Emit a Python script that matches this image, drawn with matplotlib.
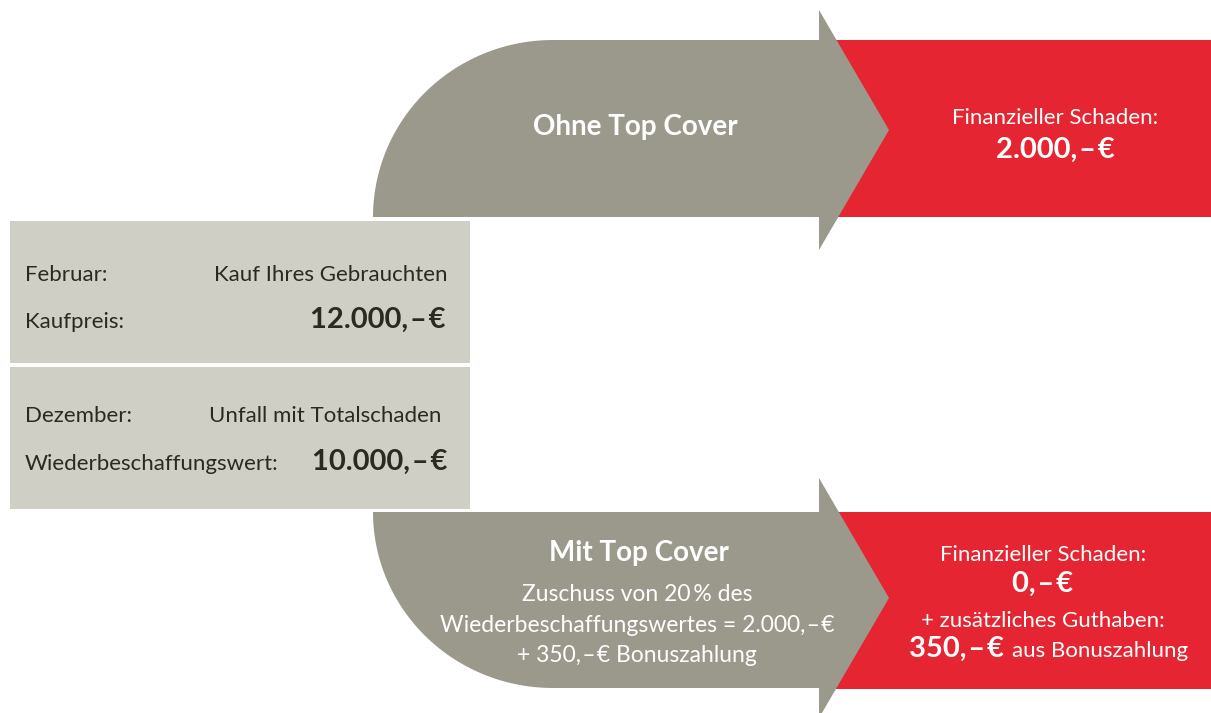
import matplotlib
matplotlib.use("Agg")
import matplotlib.pyplot as plt
import numpy as np
from matplotlib.patches import Polygon, Rectangle

plt.rcParams['font.family'] = ['Lato', 'DejaVu Sans']

SP = "\u200a"  # hair space around the dash, as in the original typesetting
DASH = "," + SP + "–" + SP + "€"

# Values shown in the infographic
kaufpreis = "12.000" + DASH
wiederbeschaffungswert = "10.000" + DASH
schaden_ohne = "2.000" + DASH
schaden_mit = "0" + DASH
bonus = "350" + DASH
zuschuss_prozent = "20\u2009%"

# Left box rows: (left label, right text, right text is bold)
box_rows = [
    ("Februar:", "Kauf Ihres Gebrauchten", False),
    ("Kaufpreis:", kaufpreis, True),
    ("Dezember:", "Unfall mit Totalschaden", False),
    ("Wiederbeschaffungswert:", wiederbeschaffungswert, True),
]
row_baselines = [281, 328, 422, 470]
row_right_x = [448, 446, 441, 447]

mit_lines = [
    "Zuschuss von " + zuschuss_prozent + " des",
    "Wiederbeschaffungswertes = " + schaden_ohne,
    "+ " + bonus + " Bonuszahlung",
]

# Colours
GRAY = "#9b998c"
LIGHT = "#cfcfc6"
RED = "#e52531"
DARK = "#2b2a22"
W, H = 1211, 713

fig = plt.figure(figsize=(W / 100, H / 100), dpi=100)
ax = fig.add_axes([0, 0, 1, 1])
ax.set_xlim(0, W)
ax.set_ylim(H, 0)
ax.axis('off')


def arrow_path(top, bottom, head_top, head_bottom, upper):
    # body from x=373 to 819, rounded on the outer left corner, head tip at 889
    x0, xc, xh, xt = 373, 553, 819, 889
    tip_y = (head_top + head_bottom) / 2
    t = np.linspace(0, np.pi / 2, 60)
    rx, ry = xc - x0, bottom - top
    if upper:
        arc = np.column_stack([xc - rx * np.cos(t), bottom - ry * np.sin(t)])
        pts = list(arc) + [(xh, top), (xh, head_top), (xt, tip_y),
                           (xh, head_bottom), (xh, bottom)]
    else:
        arc = np.column_stack([xc - rx * np.cos(t), top + ry * np.sin(t)])
        pts = [(xh, top), (xh, head_top), (xt, tip_y), (xh, head_bottom),
               (xh, bottom)] + list(arc[::-1])
    return Polygon(pts, closed=True, facecolor=GRAY, edgecolor='none', zorder=3)


# red result boxes (behind arrow heads)
ax.add_patch(Rectangle((830, 40), W - 830, 177, facecolor=RED, edgecolor='none', zorder=1))
ax.add_patch(Rectangle((830, 512), W - 830, 177, facecolor=RED, edgecolor='none', zorder=1))

# arrows
ax.add_patch(arrow_path(40, 217, 10, 250, True))
ax.add_patch(arrow_path(512, 688, 478, 718, False))

# left boxes
ax.add_patch(Rectangle((10, 221), 460, 142, facecolor=LIGHT, edgecolor='none', zorder=2))
ax.add_patch(Rectangle((10, 367), 460, 142, facecolor=LIGHT, edgecolor='none', zorder=2))

for (left, right, bold), yb, xr in zip(box_rows, row_baselines, row_right_x):
    ax.text(25, yb, left, fontsize=16, color=DARK, va='baseline', ha='left', zorder=5)
    ax.text(xr, yb, right, fontsize=21 if bold else 16, color=DARK,
            fontweight='bold' if bold else 'normal', va='baseline', ha='right', zorder=5)

# top arrow
ax.text(635, 135, "Ohne Top Cover", fontsize=20, fontweight='bold', color='white',
        ha='center', va='baseline', zorder=5)
ax.text(1055, 124, "Finanzieller Schaden:", fontsize=16, color='white',
        ha='center', va='baseline', zorder=5)
ax.text(1055, 158, schaden_ohne, fontsize=21, fontweight='bold', color='white',
        ha='center', va='baseline', zorder=5)

# bottom arrow
ax.text(639, 561, "Mit Top Cover", fontsize=20, fontweight='bold', color='white',
        ha='center', va='baseline', zorder=5)
for line, yb in zip(mit_lines, [601, 632, 662]):
    ax.text(637, yb, line, fontsize=16.5, color='white', ha='center', va='baseline', zorder=5)

ax.text(1043, 561, "Finanzieller Schaden:", fontsize=16, color='white',
        ha='center', va='baseline', zorder=5)
ax.text(1043, 592, schaden_mit, fontsize=21, fontweight='bold', color='white',
        ha='center', va='baseline', zorder=5)
ax.text(1043, 627, "+ zusätzliches Guthaben:", fontsize=16, color='white',
        ha='center', va='baseline', zorder=5)
ax.text(1004, 657, bonus, fontsize=21, fontweight='bold', color='white',
        ha='right', va='baseline', zorder=5)
ax.text(1012, 657, "aus Bonuszahlung", fontsize=16, color='white',
        ha='left', va='baseline', zorder=5)

fig.savefig("out.png", dpi=100, facecolor='white')
